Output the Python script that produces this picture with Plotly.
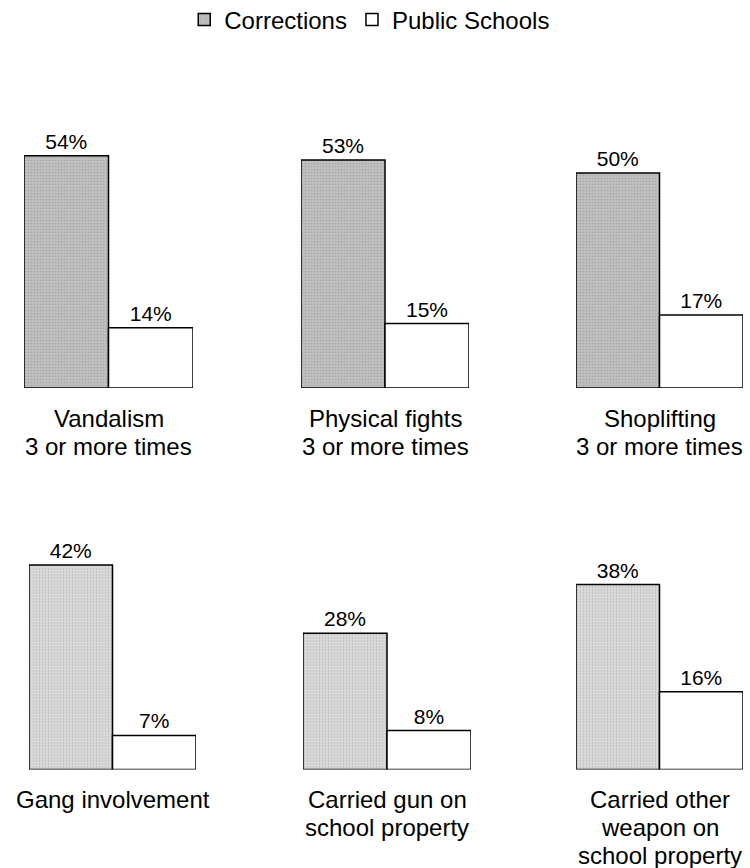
import plotly.graph_objects as go

categories = [
    ["Vandalism", "3 or more times"],
    ["Physical fights", "3 or more times"],
    ["Shoplifting", "3 or more times"],
    ["Gang involvement"],
    ["Carried gun on", "school property"],
    ["Carried other", "weapon on", "school property"],
]
series_names = ["Corrections", "Public Schools"]
corrections = [54, 53, 50, 42, 28, 38]
public_schools = [14, 15, 17, 7, 8, 16]

W, H = 750, 868
FONT = "Liberation Sans, Arial, Helvetica, sans-serif"

# panel pixel geometry: left, right, baseline, y-range max
panels = [
    (24, 193, 388, 70), (301, 469, 388, 70), (576, 743, 388, 70),
    (29, 196, 769.5, 60), (303, 471, 769.5, 60), (576, 743, 769.5, 60),
]
row_top = {388: 87, 769.5: 477.5}
line_offsets = [30, 58, 86]

fig = go.Figure()
layout_axes = {}
annotations = []
for i, (l, r, base, ymax) in enumerate(panels):
    n = i + 1
    xa = "x" if n == 1 else f"x{n}"
    ya = "y" if n == 1 else f"y{n}"
    top_px = row_top[base]
    corr_fill = "#c0c0c0" if i < 3 else "#dcdcdc"
    fig.add_trace(go.Bar(
        x=[0], y=[corrections[i]], width=[1], xaxis=xa, yaxis=ya,
        name=series_names[0], legendgroup="c", showlegend=(i == 0),
        marker=dict(color=corr_fill, line=dict(color="black", width=1.5),
                    pattern=dict(shape=".", fgcolor="#8c8c8c", bgcolor=corr_fill,
                                 size=3, solidity=0.25)),
        text=[f"{corrections[i]}%"], textposition="outside",
        textfont=dict(size=21, color="black", family=FONT), cliponaxis=False,
    ))
    fig.add_trace(go.Bar(
        x=[1], y=[public_schools[i]], width=[1], xaxis=xa, yaxis=ya,
        name=series_names[1], legendgroup="p", showlegend=(i == 0),
        marker=dict(color="white", line=dict(color="black", width=1.5)),
        text=[f"{public_schools[i]}%"], textposition="outside",
        textfont=dict(size=21, color="black", family=FONT), cliponaxis=False,
    ))
    key_x = "xaxis" if n == 1 else f"xaxis{n}"
    key_y = "yaxis" if n == 1 else f"yaxis{n}"
    layout_axes[key_x] = dict(domain=[l / W, r / W], range=[-0.5, 1.5], visible=False,
                              anchor=ya, fixedrange=True)
    layout_axes[key_y] = dict(domain=[1 - base / H, 1 - top_px / H], range=[0, ymax],
                              visible=False, anchor=xa, fixedrange=True)
    cx = (l + r) / 2 / W
    for j, line in enumerate(categories[i]):
        y_px = base + line_offsets[j]
        annotations.append(dict(text=line, x=cx, y=1 - y_px / H, xref="paper", yref="paper",
                                xanchor="center", yanchor="middle", showarrow=False,
                                font=dict(size=24, color="black", family=FONT)))

fig.update_layout(
    width=W, height=H,
    margin=dict(l=0, r=0, t=0, b=0, autoexpand=False),
    paper_bgcolor="white", plot_bgcolor="white",
    barmode="overlay", bargap=0,
    showlegend=True,
    legend=dict(orientation="h", x=0.493, xanchor="center", y=1 - 20 / H, yanchor="middle",
                font=dict(size=24, color="black", family=FONT), itemwidth=30,
                tracegroupgap=0, bgcolor="rgba(0,0,0,0)"),
    annotations=annotations,
    font=dict(family=FONT, color="black"),
    hovermode=False,
    **layout_axes,
)

fig.write_html("out.html",
               config={"displayModeBar": False, "staticPlot": True},
               post_script="document.body.style.margin='0';document.body.style.overflow='hidden';")
